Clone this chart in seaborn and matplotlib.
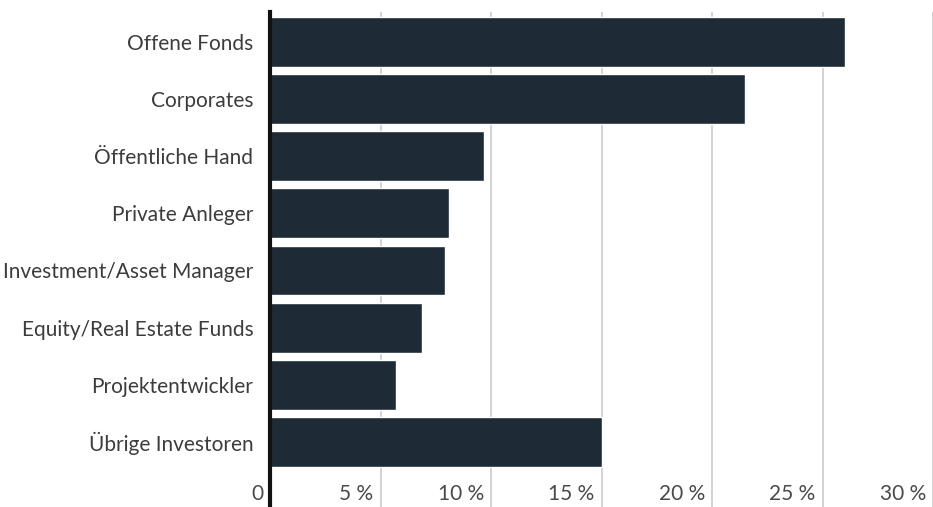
import matplotlib
matplotlib.use("Agg")
import matplotlib.pyplot as plt
import matplotlib.transforms as mtransforms
import seaborn as sns
import pandas as pd

categories = ["Offene Fonds", "Corporates", "Öffentliche Hand", "Private Anleger",
              "Investment/Asset Manager", "Equity/Real Estate Funds",
              "Projektentwickler", "Übrige Investoren"]
values = [26.0, 21.5, 9.7, 8.1, 7.9, 6.9, 5.7, 15.0]
tick_values = [0, 5, 10, 15, 20, 25, 30]
tick_labels = ["0", "5 %", "10 %", "15 %", "20 %", "25 %", "30 %"]

sns.set_style("white")
plt.rcParams['font.family'] = ['Lato', 'DejaVu Sans']

W, H = 933, 507
fig = plt.figure(figsize=(W / 100, H / 100), dpi=100)
left_px, top_px = 270, 12
ax = fig.add_axes([left_px / W, 0, (W - left_px) / W, (H - top_px) / H])

df = pd.DataFrame({"cat": categories, "val": values})
sns.barplot(data=df, x="val", y="cat", color="#1e2b36", width=0.875,
            saturation=1, ax=ax, orient="h")

ax.set_xlim(0, 29.5)
ax.set_ylim(8.14, -0.525)
ax.set_xlabel("")
ax.set_ylabel("")

# gridlines
ax.set_xticks(tick_values[1:])
ax.set_xticklabels([])
ax.tick_params(axis="x", length=0)
ax.grid(axis="x", color="#d2d2d2", linewidth=1.4)
ax.set_axisbelow(True)

# y labels
ax.tick_params(axis="y", length=0, pad=12, labelsize=15, labelcolor="#3c3c3c")

for s in ["top", "right", "bottom"]:
    ax.spines[s].set_visible(False)
ax.spines["left"].set_color("#111111")
ax.spines["left"].set_linewidth(3)
ax.spines["left"].set_zorder(5)

# x tick labels inside plot area, right-aligned before each gridline
offset = mtransforms.ScaledTranslation(-7 / 100, 0, fig.dpi_scale_trans)
for v, lab in zip(tick_values, tick_labels):
    ax.text(v, 7.91, lab, ha="right", va="center", fontsize=15,
            color="#4a4a4a", transform=ax.transData + offset, clip_on=False)

fig.savefig("out.png", dpi=100)
